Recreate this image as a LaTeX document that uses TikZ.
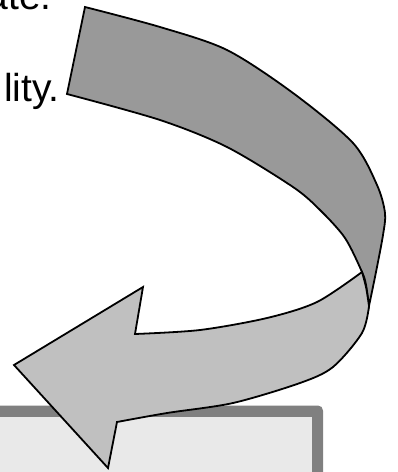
\documentclass[tikz,border=0pt]{standalone}
\usepackage{fontspec}
\setmainfont{Liberation Sans}
\definecolor{bandtop}{HTML}{999999}
\definecolor{bandlow}{HTML}{C0C0C0}
\definecolor{boxedge}{HTML}{808080}
\definecolor{boxfill}{HTML}{E9E9E9}
\tikzset{
	band/.style={line width=1.8pt, draw=black},
	txt/.style={anchor=base east, inner sep=0pt, font=\fontsize{39}{46}\selectfont}
}
\begin{document}
\begin{tikzpicture}[x=1pt,y=-1pt]
	\useasboundingbox (0,0) rectangle (398,472);
	\clip (0,0) rectangle (398,472);
	\fill[boxedge, rounded corners=5pt] (-20,405.5) rectangle (323,490);
	\fill[boxfill] (-20,417) rectangle (312,490);
	\node[txt] (lineone) at (52,9.5) {ate.};
	\node[txt] (linetwo) at (60,101.5) {lity.};
	\coordinate (T1) at (85,7);
	\coordinate (T2) at (67,94);
	\coordinate (F1) at (362,272);
	\coordinate (F2) at (369,306);
	\coordinate (H1) at (117,422);
	\coordinate (H2) at (108,468);
	\coordinate (H3) at (14,365);
	\coordinate (H4) at (143,287);
	\coordinate (H5) at (135,334);
	\filldraw[band, fill=bandtop]
		plot[smooth] coordinates {(T1) (160,27) (227,50) (293,93) (353,143) (377,185) (385,213) (383,235) (376,272) (F2)}
		-- plot[smooth] coordinates {(F2) (366,285) (F1) (345,238) (320,210) (293,187) (227,147) (160,120) (T2)}
		-- cycle;
	\filldraw[band, fill=bandlow]
		plot[smooth] coordinates {(H5) (200,330) (267,318) (317,302) (F1)}
		-- plot[smooth] coordinates {(F1) (366,287) (F2)}
		-- plot[smooth] coordinates {(F2) (362,333) (333,367) (300,383) (233,403) (167,413) (H1)}
		-- (H2) -- (H3) -- (H4) -- cycle;
\end{tikzpicture}
\end{document}
